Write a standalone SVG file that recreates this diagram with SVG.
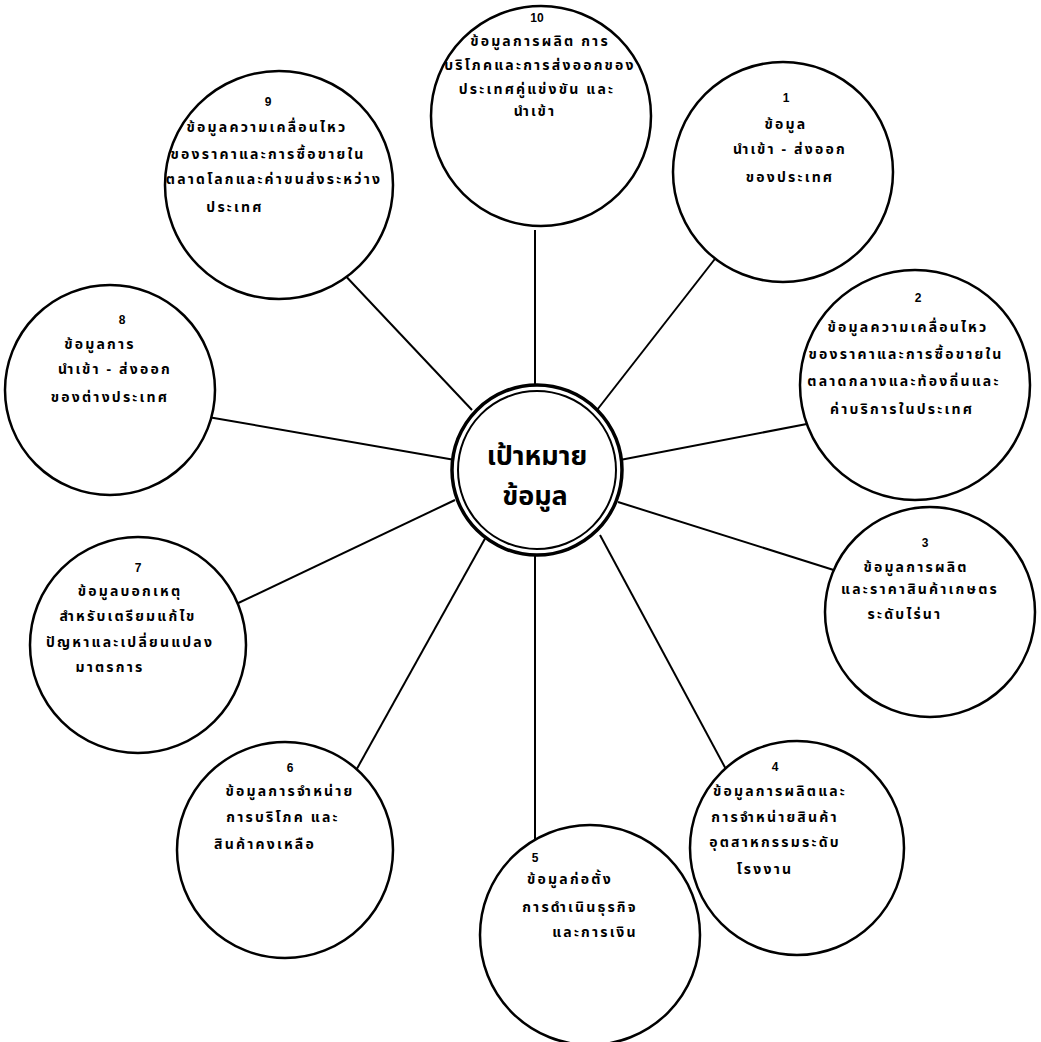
<svg xmlns="http://www.w3.org/2000/svg" width="1041" height="1042" viewBox="0 0 1041 1042">
<style>
.c{fill:#fff;stroke:#000;stroke-width:2.5}
.s{stroke:#000;stroke-width:2;fill:none}
.t{font-family:"Noto Sans Thai","Noto Sans","DejaVu Sans",sans-serif;font-size:14px;font-weight:bold;text-anchor:middle;fill:#000;letter-spacing:2.2px}
.n{font-family:"Liberation Sans",sans-serif;font-size:12px;font-weight:bold;text-anchor:middle;fill:#000}
.b{font-family:"Noto Sans Thai","Noto Sans","DejaVu Sans",sans-serif;font-size:27px;font-weight:bold;text-anchor:middle;fill:#000}
</style>
<rect width="1041" height="1042" fill="#fff"/>
<g id="connectors">
<line class="s" x1="535" y1="395" x2="535" y2="230"/>
<line class="s" x1="597" y1="410" x2="718" y2="255"/>
<line class="s" x1="620" y1="460" x2="812" y2="423"/>
<line class="s" x1="618" y1="502" x2="840" y2="572"/>
<line class="s" x1="600" y1="535" x2="728" y2="773"/>
<line class="s" x1="535" y1="547" x2="535" y2="845"/>
<line class="s" x1="487" y1="535" x2="354" y2="774"/>
<line class="s" x1="455" y1="500" x2="232" y2="606"/>
<line class="s" x1="455" y1="460" x2="208" y2="417"/>
<line class="s" x1="472" y1="410" x2="340" y2="270"/>
</g>
<g id="node10">
<circle class="c" cx="541" cy="116" r="110"/>
<text class="n" x="537" y="22">10</text>
<text class="t" x="540" y="46">ข้อมูลการผลิต การ</text>
<text class="t" x="540" y="70">บริโภคและการส่งออกของ</text>
<text class="t" x="537" y="94">ประเทศคู่แข่งขัน และ</text>
<text class="t" x="535" y="116">นำเข้า</text>
</g>
<g id="node1">
<circle class="c" cx="783" cy="172" r="110"/>
<text class="n" x="786" y="102">1</text>
<text class="t" x="786" y="129">ข้อมูล</text>
<text class="t" x="790" y="154">นำเข้า - ส่งออก</text>
<text class="t" x="790" y="182">ของประเทศ</text>
</g>
<g id="node2">
<circle class="c" cx="915" cy="385" r="115"/>
<text class="n" x="918" y="302">2</text>
<text class="t" x="908" y="332">ข้อมูลความเคลื่อนไหว</text>
<text class="t" x="906" y="359">ของราคาและการซื้อขายใน</text>
<text class="t" x="904" y="386">ตลาดกลางและท้องถิ่นและ</text>
<text class="t" x="902" y="414">ค่าบริการในประเทศ</text>
</g>
<g id="node3">
<circle class="c" cx="930" cy="612" r="105"/>
<text class="n" x="925" y="547">3</text>
<text class="t" x="916" y="572">ข้อมูลการผลิต</text>
<text class="t" x="920" y="594">และราคาสินค้าเกษตร</text>
<text class="t" x="905" y="619">ระดับไร่นา</text>
</g>
<g id="node4">
<circle class="c" cx="797" cy="848" r="107"/>
<text class="n" x="775" y="771">4</text>
<text class="t" x="780" y="796">ข้อมูลการผลิตและ</text>
<text class="t" x="775" y="822">การจำหน่ายสินค้า</text>
<text class="t" x="775" y="847">อุตสาหกรรมระดับ</text>
<text class="t" x="765" y="874">โรงงาน</text>
</g>
<g id="node5">
<circle class="c" cx="590" cy="935" r="110"/>
<text class="n" x="535" y="862">5</text>
<text class="t" x="570" y="884">ข้อมูลก่อตั้ง</text>
<text class="t" x="580" y="912">การดำเนินธุรกิจ</text>
<text class="t" x="595" y="937">และการเงิน</text>
</g>
<g id="node6">
<circle class="c" cx="285" cy="850" r="108"/>
<text class="n" x="290" y="772">6</text>
<text class="t" x="290" y="796">ข้อมูลการจำหน่าย</text>
<text class="t" x="283" y="822">การบริโภค และ</text>
<text class="t" x="265" y="849">สินค้าคงเหลือ</text>
</g>
<g id="node7">
<circle class="c" cx="138" cy="645" r="108"/>
<text class="n" x="138" y="572">7</text>
<text class="t" x="130" y="596">ข้อมูลบอกเหตุ</text>
<text class="t" x="128" y="621">สำหรับเตรียมแก้ไข</text>
<text class="t" x="130" y="647">ปัญหาและเปลี่ยนแปลง</text>
<text class="t" x="110" y="672">มาตรการ</text>
</g>
<g id="node8">
<circle class="c" cx="110" cy="390" r="105"/>
<text class="n" x="122" y="324">8</text>
<text class="t" x="100" y="349">ข้อมูลการ</text>
<text class="t" x="115" y="374">นำเข้า - ส่งออก</text>
<text class="t" x="110" y="402">ของต่างประเทศ</text>
</g>
<g id="node9">
<circle class="c" cx="279" cy="185" r="114"/>
<text class="n" x="268" y="106">9</text>
<text class="t" x="267" y="132">ข้อมูลความเคลื่อนไหว</text>
<text class="t" x="268" y="159">ของราคาและการซื้อขายใน</text>
<text class="t" x="274" y="184">ตลาดโลกและค่าขนส่งระหว่าง</text>
<text class="t" x="235" y="212">ประเทศ</text>
</g>
<g id="center">
<circle cx="537" cy="470" r="85" fill="#fff" stroke="#000" stroke-width="3.5"/>
<circle cx="537" cy="470" r="79" fill="none" stroke="#000" stroke-width="2"/>
<text class="b" x="537" y="465">เป้าหมาย</text>
<text class="b" x="535" y="505">ข้อมูล</text>
</g>
</svg>
